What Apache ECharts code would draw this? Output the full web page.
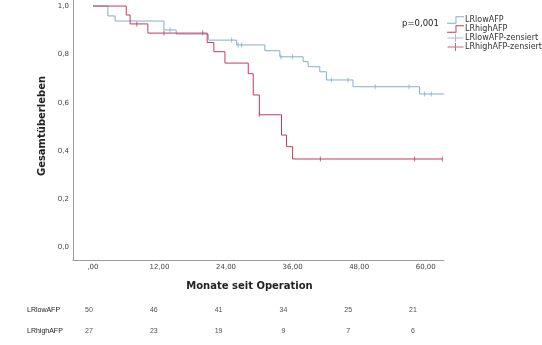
<!DOCTYPE html>
<html>
<head>
<meta charset="utf-8">
<script src="https://cdn.jsdelivr.net/npm/echarts@6/dist/echarts.min.js"></script>
<style>
  html, body { margin: 0; padding: 0; background: #fff; }
  #chart { width: 542px; height: 345px; }
</style>
</head>
<body>
<div id="chart"></div>
<script>
// Kaplan-Meier steps (Monate, Überlebensrate)
const lowTimes = [0, 2.7, 4.0, 12.8, 15.0, 20.8, 25.9, 31.0, 33.7, 37.9, 38.8, 40.9, 42.1, 46.9, 58.9, 63.3]
const lowSurv = [1.0, 0.959, 0.938, 0.901, 0.884, 0.859, 0.839, 0.815, 0.790, 0.770, 0.749, 0.728, 0.694, 0.666, 0.636, 0.636]
const highTimes = [0, 6.0, 6.7, 9.9, 20.6, 21.8, 23.8, 28.0, 28.9, 30.0, 34.0, 34.9, 36.0, 63.0]
const highSurv = [1.0, 0.963, 0.926, 0.888, 0.849, 0.811, 0.764, 0.720, 0.632, 0.550, 0.466, 0.418, 0.367, 0.367]

// zensierte Fälle
const lowCensTimes = [13.9, 25.0, 26.2, 26.8, 33.9, 36.0, 43.0, 46.0, 50.9, 57.0, 59.8, 61.0]
const lowCensSurv = [0.901, 0.859, 0.839, 0.839, 0.790, 0.790, 0.694, 0.694, 0.666, 0.666, 0.636, 0.636]
const highCensTimes = [7.9, 12.8, 19.8, 30.0, 41.0, 58.0, 63.0]
const highCensSurv = [0.926, 0.888, 0.888, 0.550, 0.367, 0.367, 0.367]

const xTicks = [0, 12, 24, 36, 48, 60]
const yTicks = [0, 0.2, 0.4, 0.6, 0.8, 1.0]

// Anzahl unter Risiko
const riskGroups = ['LRlowAFP', 'LRhighAFP']
const riskTimes = [0, 12, 24, 36, 48, 60]
const riskLow = [50, 46, 41, 34, 25, 21]
const riskHigh = [27, 23, 19, 9, 7, 6]

const BLUE = '#84aed0'
const RED = '#c23a60'
const AXIS = '#9c9c9c'

const zip = (a, b) => a.map((v, i) => [v, b[i]])

const stepIcon = 'path://M0,7 H9 V0 H18 V1 H10 V8 H0 Z'
const crossIcon = 'path://M0,3.5 H7.5 V0 H8.5 V3.5 H16 V4.5 H8.5 V8 H7.5 V4.5 H0 Z'
const censorSymbol = 'path://M0,0 H1 V6 H0 Z'

const chart = echarts.init(document.getElementById('chart'))

const riskData = []
riskTimes.forEach((t, i) => {
  riskData.push([t, 'LRlowAFP', riskLow[i]])
  riskData.push([t, 'LRhighAFP', riskHigh[i]])
})

chart.setOption({
  animation: false,
  textStyle: { fontFamily: 'DejaVu Sans' },
  legend: {
    orient: 'vertical',
    left: 442,
    top: 11,
    itemWidth: 17,
    itemHeight: 8,
    itemGap: 1,
    textStyle: { fontSize: 8, color: '#333', padding: [0, 0, 0, -4] },
    data: [
      { name: 'LRlowAFP', icon: stepIcon },
      { name: 'LRhighAFP', icon: stepIcon },
      { name: 'LRlowAFP-zensiert', icon: crossIcon },
      { name: 'LRhighAFP-zensiert', icon: crossIcon }
    ]
  },
  graphic: [
    {
      type: 'text',
      left: 402,
      top: 19,
      style: { text: 'p=0,001', fontSize: 8.5, fontFamily: 'DejaVu Sans', fill: '#222' }
    }
  ],
  grid: [
    { left: 73, right: 98, top: 0, bottom: 85 },
    { left: 89, width: 324, top: 300, height: 42 }
  ],
  xAxis: [
    {
      type: 'value',
      gridIndex: 0,
      min: -3.6,
      max: 63.3,
      splitLine: { show: false },
      axisTick: { show: false },
      axisLine: { onZero: false, lineStyle: { color: AXIS, width: 1 } },
      axisLabel: {
        customValues: xTicks,
        margin: 4,
        fontSize: 7,
        color: '#444',
        formatter: v => (v === 0 ? ',00' : v.toFixed(2).replace('.', ','))
      },
      name: 'Monate seit Operation',
      nameLocation: 'middle',
      nameGap: 21,
      nameTextStyle: { fontSize: 10, fontWeight: 'bold', color: '#222', padding: [0, 18, 0, 0] }
    },
    {
      type: 'value',
      gridIndex: 1,
      min: 0,
      max: 60,
      show: false
    }
  ],
  yAxis: [
    {
      type: 'value',
      gridIndex: 0,
      min: -0.051,
      max: 1.025,
      splitLine: { show: false },
      axisTick: { show: false },
      axisLine: { show: true, onZero: false, lineStyle: { color: AXIS, width: 1 } },
      axisLabel: {
        customValues: yTicks,
        margin: 4,
        fontSize: 7,
        color: '#444',
        formatter: v => v.toFixed(1).replace('.', ',')
      },
      name: 'Gesamtüberleben',
      nameLocation: 'middle',
      nameGap: 22,
      nameTextStyle: { fontSize: 10, fontWeight: 'bold', color: '#222', padding: [0, 0, 0, 8] }
    },
    {
      type: 'category',
      gridIndex: 1,
      inverse: true,
      data: riskGroups,
      axisLine: { show: false },
      axisTick: { show: false },
      splitLine: { show: false },
      axisLabel: {
        align: 'left',
        margin: 62,
        fontSize: 7,
        fontFamily: 'Liberation Sans',
        color: '#222'
      }
    }
  ],
  series: [
    {
      name: 'LRlowAFP',
      type: 'line',
      step: 'end',
      showSymbol: false,
      color: BLUE,
      lineStyle: { width: 1, color: BLUE },
      data: zip(lowTimes, lowSurv)
    },
    {
      name: 'LRhighAFP',
      type: 'line',
      step: 'end',
      showSymbol: false,
      color: RED,
      lineStyle: { width: 1, color: RED },
      data: zip(highTimes, highSurv)
    },
    {
      name: 'LRlowAFP-zensiert',
      type: 'scatter',
      symbol: censorSymbol,
      symbolSize: [1, 5],
      color: BLUE,
      data: zip(lowCensTimes, lowCensSurv)
    },
    {
      name: 'LRhighAFP-zensiert',
      type: 'scatter',
      symbol: censorSymbol,
      symbolSize: [1, 5],
      color: RED,
      data: zip(highCensTimes, highCensSurv)
    },
    {
      name: 'risk',
      type: 'scatter',
      xAxisIndex: 1,
      yAxisIndex: 1,
      symbolSize: 0,
      silent: true,
      label: {
        show: true,
        position: 'inside',
        fontSize: 7,
        fontFamily: 'Liberation Sans',
        color: '#222',
        formatter: p => p.value[2]
      },
      data: riskData
    }
  ]
})
</script>
</body>
</html>
